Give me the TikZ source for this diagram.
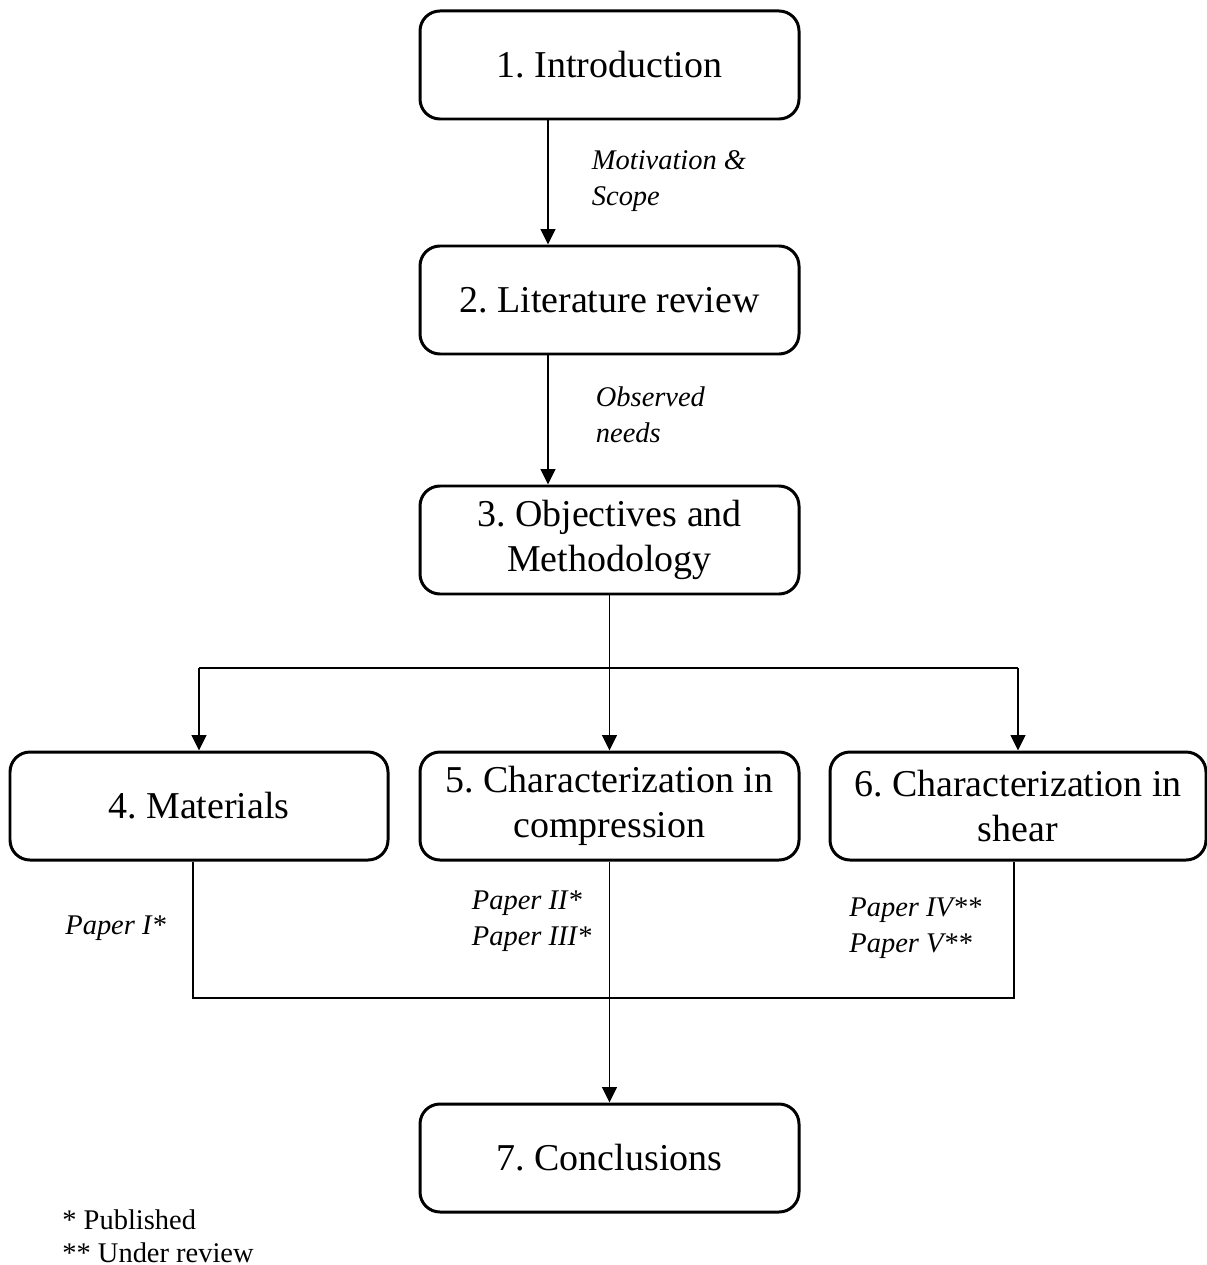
\documentclass[tikz,border=0pt]{standalone}
\usepackage{fontspec}
\setmainfont{Liberation Serif}
\frenchspacing
\usetikzlibrary{arrows.meta}

\begin{document}
\begin{tikzpicture}
  [>={Triangle[width=4.2pt,length=4.4pt]},
   box/.style={draw,line width=0.85pt,rounded corners=0.2cm,minimum width=3.79cm,
     minimum height=1.08cm,align=center,inner sep=2pt,font=\fontsize{10.8}{12.8}\selectfont},
   lbl/.style={anchor=west,align=left,inner sep=0pt,font=\fontsize{8.1}{10.2}\selectfont\itshape},
   every path/.style={line width=0.5pt}]
  \useasboundingbox (0,0) rectangle (12.06,-12.65);
  \node[box] (n1) at (6.095,-0.65) {1. Introduction};
  \node[box] (n2) at (6.095,-3.00) {2. Literature review};
  \node[box] (n3) at (6.095,-5.40) {3. Objectives and\\Methodology};
  \node[box,minimum width=3.78cm] (n4) at (1.99,-8.06) {4. Materials};
  \node[box] (n5) at (6.095,-8.06) {5. Characterization in\\compression};
  \node[box,minimum width=3.76cm] (n6) at (10.18,-8.06) {6. Characterization in\\shear};
  \node[box] (n7) at (6.095,-11.58) {7. Conclusions};
  \coordinate (c3) at (6.095,-6.68);
  \coordinate (c4) at (1.99,-6.68);
  \coordinate (c6) at (10.18,-6.68);
  \coordinate (d4) at (1.93,-9.98);
  \coordinate (d6) at (10.14,-9.98);
  \draw[->] ([xshift=-6.15mm]n1.south) -- ([xshift=-6.15mm]n2.north);
  \draw[->] ([xshift=-6.15mm]n2.south) -- ([xshift=-6.15mm]n3.north);
  \draw (n3) -- (c3);
  \draw (c4) -- (c6);
  \foreach \from/\to in {c4/n4,c3/n5,c6/n6,n5/n7}
    \draw[->] (\from) -- (\to);
  \draw (n4.south -| d4) -- (d4) -- (d6) -- (n6.south -| d6);
  \node[lbl] (m12) at (5.91,-1.81) {Motivation \&\\Scope};
  \node[lbl] (m23) at (5.95,-4.15) {Observed\\needs};
  \node[lbl] (p4) at (0.645,-9.28) {Paper I*};
  \node[lbl] (p5) at (4.71,-9.21) {Paper II*\\Paper III*};
  \node[lbl] (p6) at (8.485,-9.285) {Paper IV**\\Paper V**};
  \node[lbl,font=\fontsize{8.1}{9.4}\selectfont] (key) at (0.615,-12.36) {* Published\\** Under review};
\end{tikzpicture}
\end{document}
